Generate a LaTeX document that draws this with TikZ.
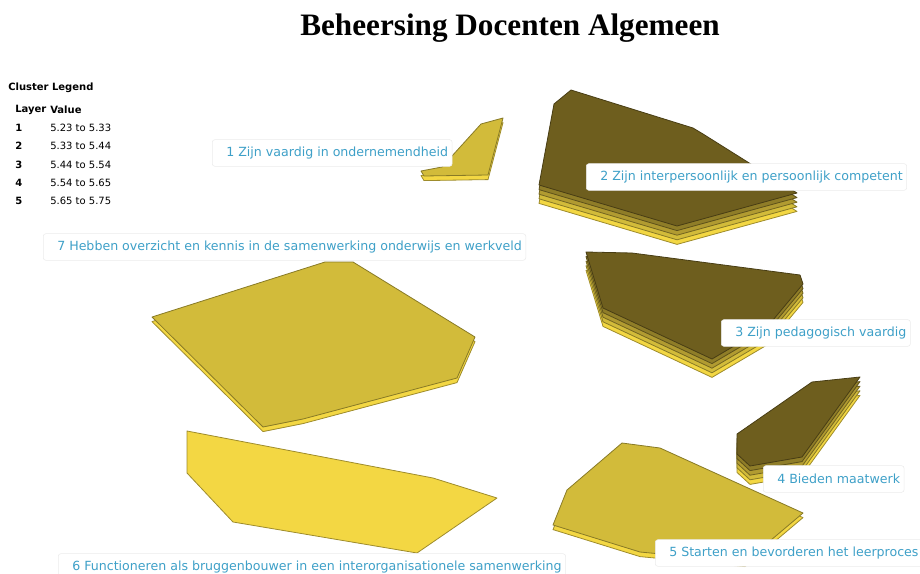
\documentclass[tikz,border=0pt]{standalone}
\usepackage{fontspec}
\newfontfamily\labfont{DejaVu Sans}
\newfontfamily\titlefont{Liberation Serif}
\definecolor{lay1}{RGB}{243,215,67}
\definecolor{lay2}{RGB}{210,187,58}
\definecolor{lay3}{RGB}{177,155,49}
\definecolor{lay4}{RGB}{143,125,40}
\definecolor{lay5}{RGB}{110,94,30}
\definecolor{labblue}{RGB}{62,160,200}
\tikzset{
  poly/.style={line width=0.6pt, line join=round},
  labbox/.style={anchor=west, draw=black!8, fill=white, rounded corners=2pt,
    inner xsep=3pt, inner ysep=0pt, minimum height=20pt, text=labblue,
    font=\labfont\fontsize{9.45}{11}\selectfont},
  legtxt/.style={anchor=west, inner sep=0pt, font=\labfont\fontsize{7.5}{9}\selectfont},
  legbold/.style={legtxt, font=\labfont\bfseries\fontsize{7.5}{9}\selectfont}
}
\newcommand\clusterpoly[2]{%
  \foreach \k in {1,...,#1}{%
    \pgfmathsetmacro\off{(#1-\k)*4.6}%
    \draw[poly, fill=lay\k, draw=lay\k!65!black, shift={(0,\off)}] #2 -- cycle;
  }}
\begin{document}
\begin{tikzpicture}[x=0.75pt,y=-0.75pt]
\useasboundingbox (0,0) rectangle (920,574);
\clip (0,0) rectangle (920,574);

% title
\node[font=\titlefont\bfseries\fontsize{23.4}{28}\selectfont, inner sep=0pt] (title) at (510,28) {Beheersing Docenten Algemeen};

% legend
\node[legbold] (lg) at (8,88) {Cluster Legend};
\node[legbold] (lgl) at (15,110) {Layer};
\node[legbold] (lgv) at (50,110) {Value};
\foreach \n/\v/\y in {1/5.23 to 5.33/128, 2/5.33 to 5.44/146, 3/5.44 to 5.54/164.5, 4/5.54 to 5.65/183, 5/5.65 to 5.75/201}{
  \node[legbold] (ln\n) at (15,\y) {\n};
  \node[legtxt] (lv\n) at (50,\y) {\v};
}

% clusters
\clusterpoly{2}{(421,171) -- (442,167) -- (481,124) -- (503,118) -- (488,175) -- (424,176)}
\clusterpoly{5}{(571,90) -- (693,128) -- (703,134) -- (797,193) -- (677,226) -- (539,185) -- (554,104)}
\clusterpoly{5}{(586,252) -- (632,253) -- (800,275) -- (803,284) -- (768,326) -- (712,359) -- (603,308)}
\clusterpoly{5}{(737,434) -- (812,382) -- (860,377) -- (802,457) -- (750,466) -- (737,454)}
\clusterpoly{2}{(553,525) -- (567,490) -- (622,443) -- (660,448) -- (803,513) -- (745,562) -- (640,552)}
\clusterpoly{1}{(187,431) -- (433,478) -- (497,498) -- (417,553) -- (233,522) -- (187,473)}
\clusterpoly{2}{(152,317) -- (325,262) -- (353,262) -- (475,337) -- (457,378) -- (303,419) -- (263,427)}

% labels
\node[labbox] (c1) at (212,153) {\hspace*{7.5pt}1 Zijn vaardig in ondernemendheid};
\node[labbox] (c2) at (586,177) {\hspace*{7.5pt}2 Zijn interpersoonlijk en persoonlijk competent};
\node[labbox] (c3) at (721,333) {\hspace*{7.5pt}3 Zijn pedagogisch vaardig};
\node[labbox] (c4) at (763,479) {\hspace*{7.5pt}4 Bieden maatwerk};
\node[labbox] (c5) at (655,553) {\hspace*{7.5pt}5 Starten en bevorderen het leerproces};
\node[labbox] (c6) at (58,567) {\hspace*{7.5pt}6 Functioneren als bruggenbouwer in een interorganisationele samenwerking};
\node[labbox] (c7) at (43,247) {\hspace*{7.5pt}7 Hebben overzicht en kennis in de samenwerking onderwijs en werkveld};
\end{tikzpicture}
\end{document}
